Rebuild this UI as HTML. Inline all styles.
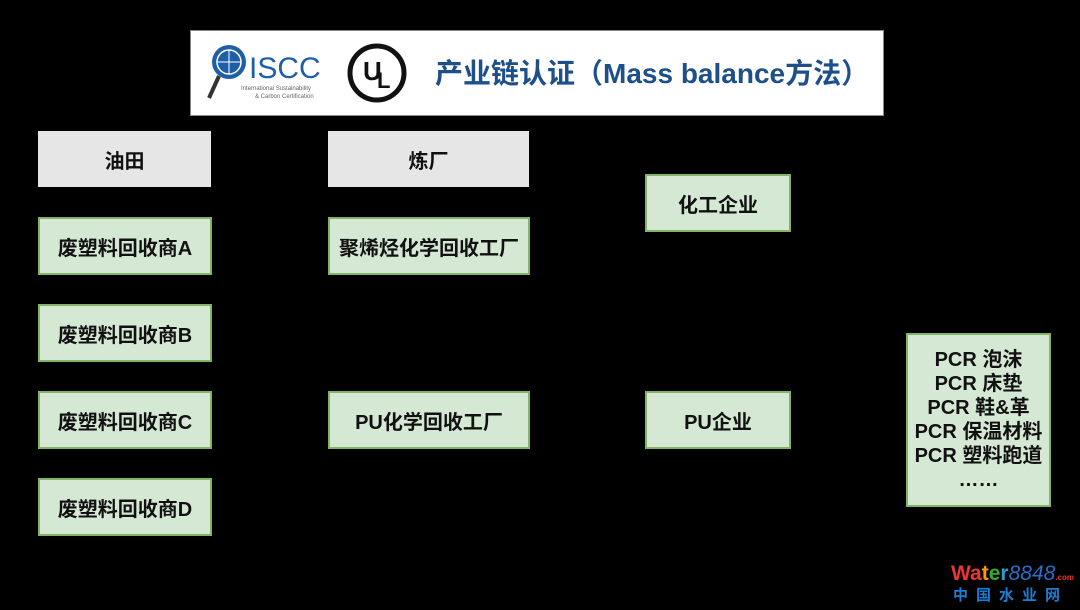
<!DOCTYPE html><html><head><meta charset="utf-8"><style>
body{margin:0;width:1080px;height:610px;background:#000;position:relative;overflow:hidden;font-family:"Liberation Sans","Noto Sans CJK SC",sans-serif}
.b{position:absolute;box-sizing:border-box;display:flex;align-items:center;justify-content:center;font-weight:bold;font-size:20px;color:#111;text-align:center}
.g{background:#d5e8d4;border:2px solid #82b366}
.y{background:#e6e6e6}
</style></head><body>
<div style="position:absolute;left:190px;top:30px;width:694px;height:86px;background:#fff;border:1px solid #888;box-sizing:border-box"></div>
<svg style="position:absolute;left:205px;top:40px" width="120" height="65">
<circle cx="24" cy="22" r="17" fill="#1f5fa8"/><circle cx="24" cy="22" r="12" fill="none" stroke="#fff" stroke-width="1.5"/>
<line x1="12" y1="22" x2="36" y2="22" stroke="#fff"/><line x1="24" y1="10" x2="24" y2="34" stroke="#fff"/>
<line x1="14" y1="36" x2="4" y2="58" stroke="#333" stroke-width="4"/>
<text x="44" y="38" font-size="30" fill="#1f5fa8" font-family="Liberation Sans">ISCC</text>
<text x="36" y="50" font-size="6" fill="#666">International Sustainability</text>
<text x="50" y="58" font-size="6" fill="#666">&amp; Carbon Certification</text>
</svg>
<svg style="position:absolute;left:346px;top:42px" width="62" height="62">
<circle cx="31" cy="31" r="27" fill="none" stroke="#111" stroke-width="5"/>
<text x="17" y="38" font-size="26" font-weight="bold" fill="#111">U</text><text x="31" y="46" font-size="22" font-weight="bold" fill="#111">L</text>
</svg>
<div style="position:absolute;left:435px;top:52px;font-size:28px;font-weight:bold;color:#1d4f8a;white-space:nowrap">产业链认证（Mass balance方法）</div>
<div class="b y" style="left:38px;top:131px;width:173px;height:56px">油田</div>
<div class="b y" style="left:328px;top:131px;width:201px;height:56px">炼厂</div>
<div class="b g" style="left:38px;top:217px;width:174px;height:58px">废塑料回收商A</div>
<div class="b g" style="left:38px;top:304px;width:174px;height:58px">废塑料回收商B</div>
<div class="b g" style="left:38px;top:391px;width:174px;height:58px">废塑料回收商C</div>
<div class="b g" style="left:38px;top:478px;width:174px;height:58px">废塑料回收商D</div>
<div class="b g" style="left:328px;top:217px;width:202px;height:58px">聚烯烃化学回收工厂</div>
<div class="b g" style="left:328px;top:391px;width:202px;height:58px">PU化学回收工厂</div>
<div class="b g" style="left:645px;top:174px;width:146px;height:58px">化工企业</div>
<div class="b g" style="left:645px;top:391px;width:146px;height:58px">PU企业</div>
<div class="b g" style="left:906px;top:333px;width:145px;height:174px;line-height:24px">PCR 泡沫<br>PCR 床垫<br>PCR 鞋&amp;革<br>PCR 保温材料<br>PCR 塑料跑道<br>……</div>
<div style="position:absolute;left:951px;top:562px;font-size:21px;font-weight:bold;font-style:normal;white-space:nowrap"><span style="color:#e33">W</span><span style="color:#e33">a</span><span style="color:#f90">t</span><span style="color:#3a3">e</span><span style="color:#39c">r</span><span style="color:#2a6fc9;font-style:italic;font-weight:normal">8848</span><span style="color:#e33;font-size:8px">.com</span></div>
<div style="position:absolute;left:953px;top:584px;font-size:15px;font-weight:bold;color:#1a7fd4;letter-spacing:8px;white-space:nowrap">中国水业网</div>
</body></html>
